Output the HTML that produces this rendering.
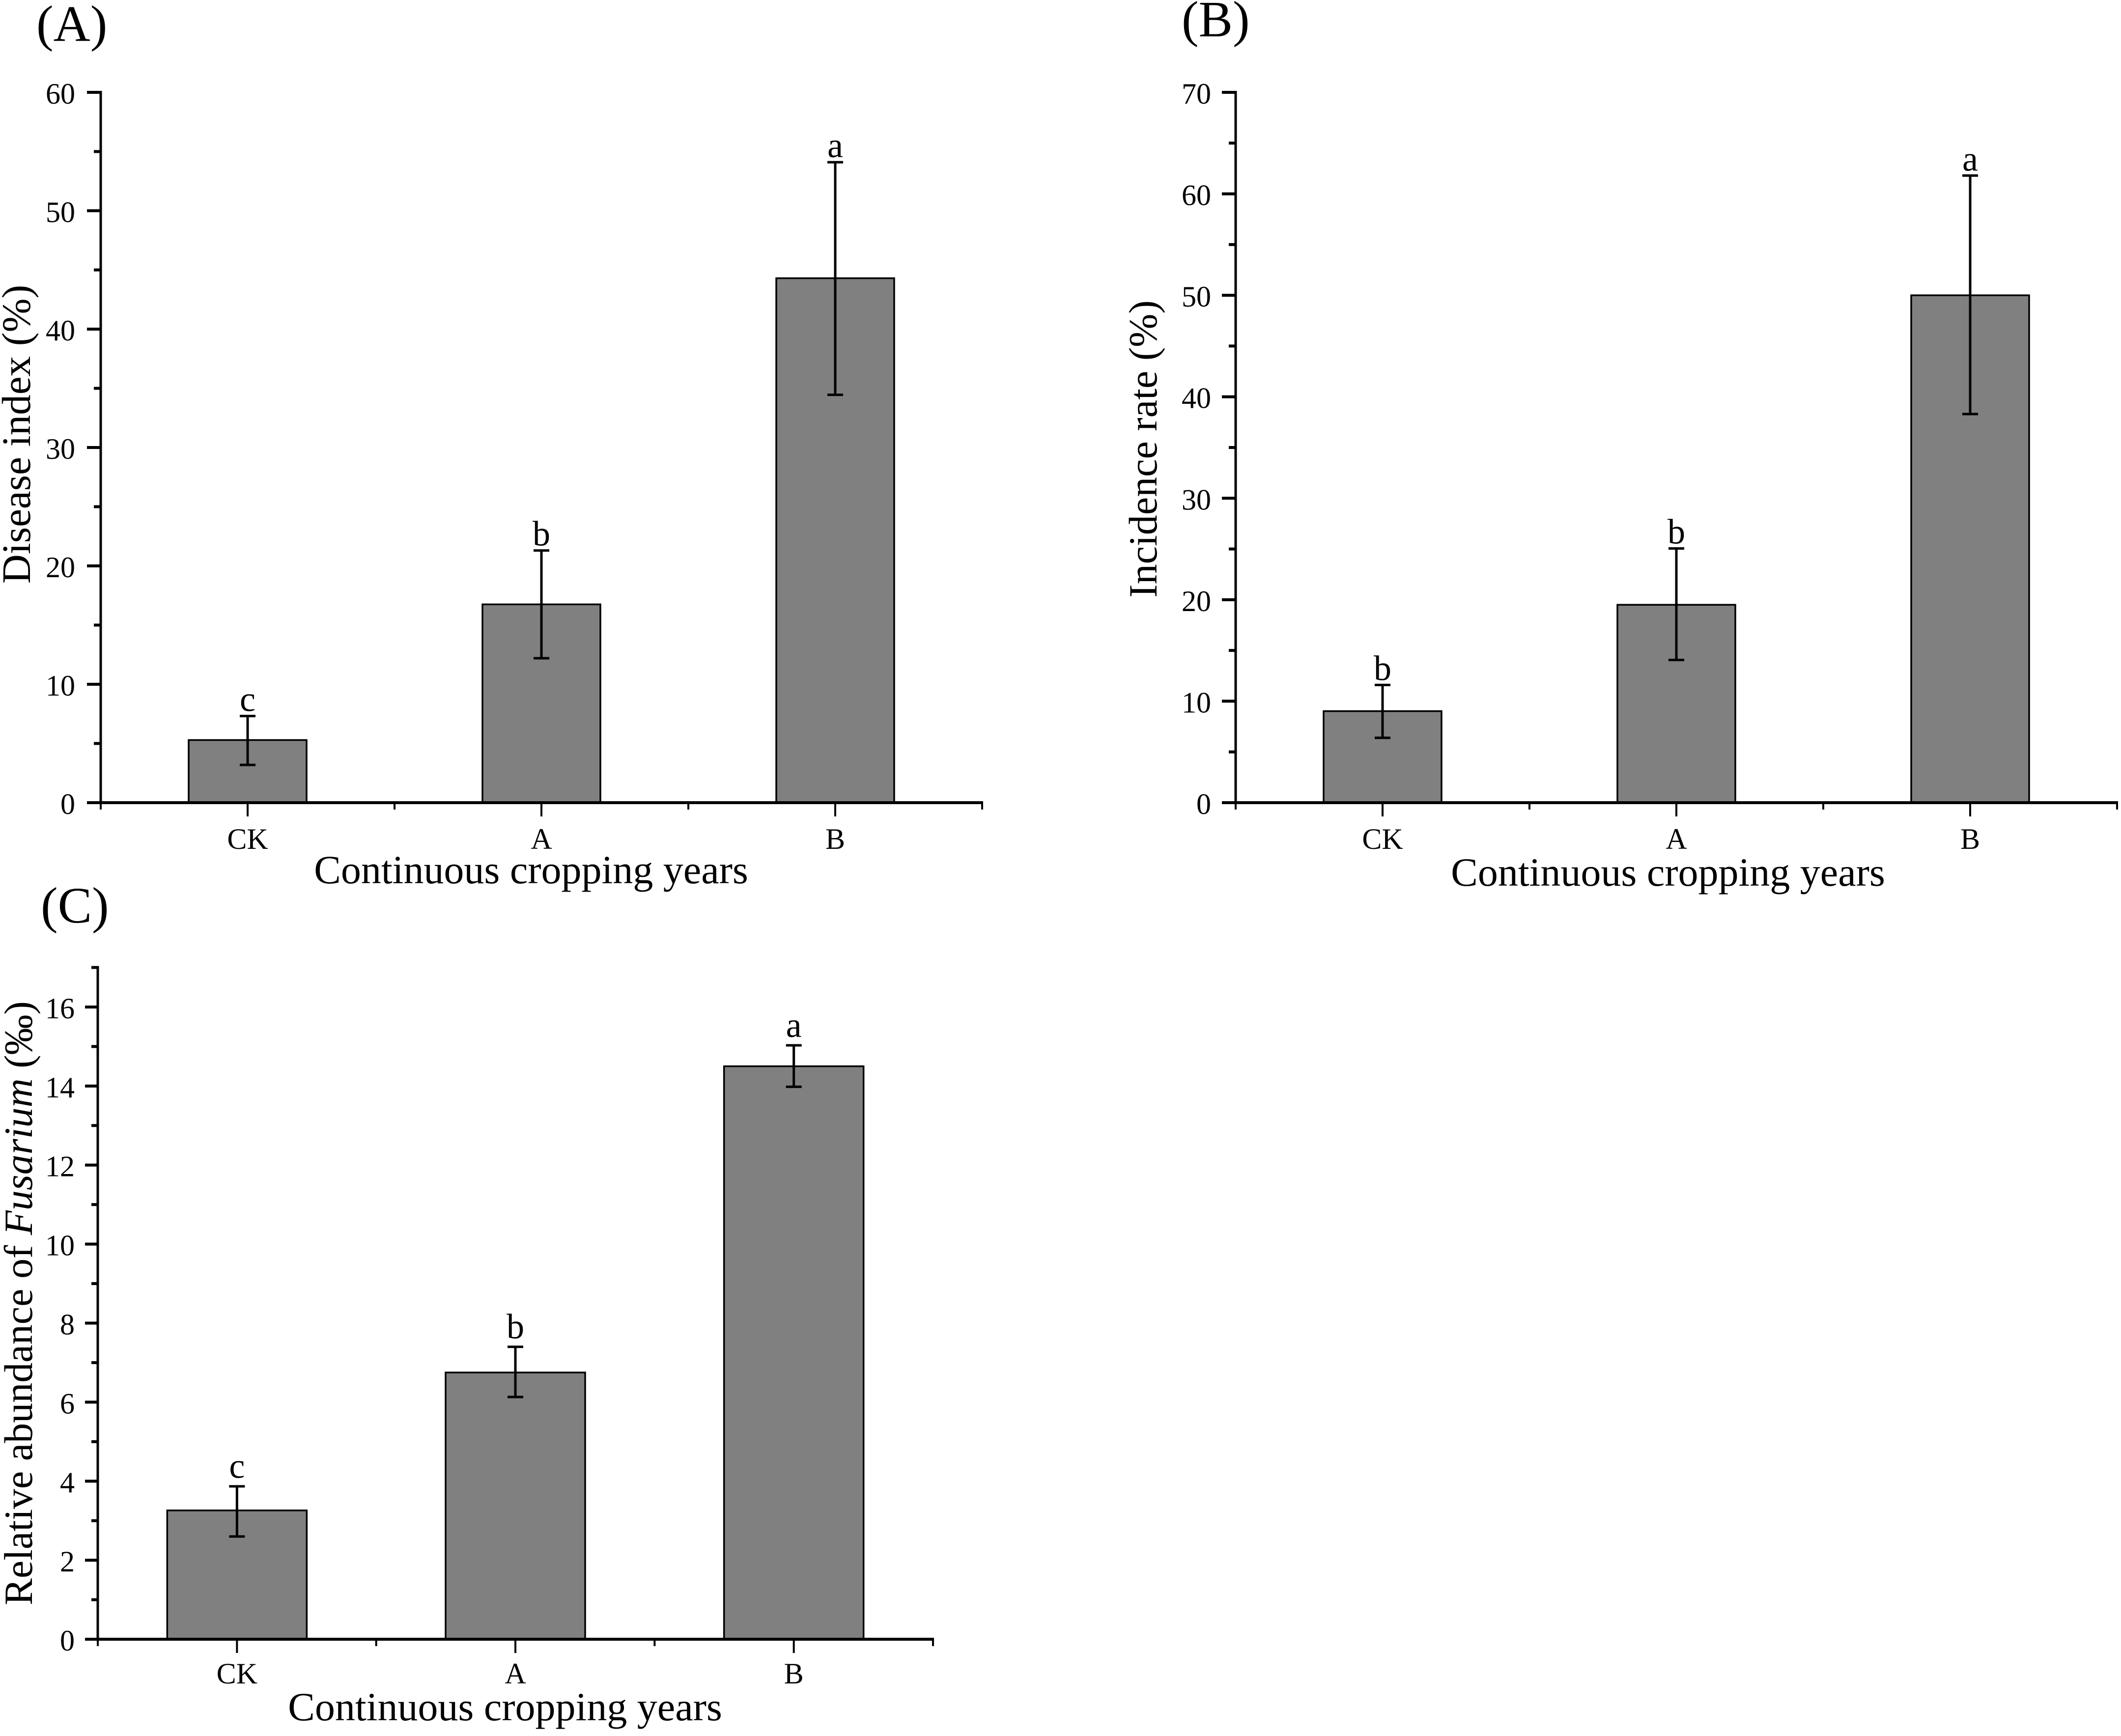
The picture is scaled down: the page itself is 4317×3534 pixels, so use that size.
<!DOCTYPE html>
<html lang="en">
<head>
<meta charset="utf-8">
<title>Disease index, incidence rate and Fusarium abundance</title>
<style>
html,body{margin:0;padding:0;background:#fff}
svg{display:block}
text{font-family:"Liberation Serif",serif;fill:#000}
.panel-tag{font-size:104px}
.tick{font-size:60px}
.axis-title{font-size:82px}
.y-title-wide{font-size:83px}
.sig{font-size:72px}
</style>
</head>
<body>
<svg id="figure" xmlns="http://www.w3.org/2000/svg" width="4317" height="3534" viewBox="0 0 4317 3534">
  <rect width="4317" height="3534" fill="#fff"/>

  <g id="panel-a">
    <text class="panel-tag" x="74" y="83">(A)</text>
    <text class="axis-title" x="1081" y="1798" text-anchor="middle">Continuous cropping years</text>
    <text class="axis-title y-title-wide" transform="translate(61 884) rotate(-90)" text-anchor="middle">Disease index (%)</text>
  </g>

  <g id="panel-b">
    <text class="panel-tag" x="2405" y="74">(B)</text>
    <text class="axis-title" x="3395" y="1803" text-anchor="middle">Continuous cropping years</text>
    <text class="axis-title" transform="translate(2354 914) rotate(-90)" text-anchor="middle">Incidence rate (%)</text>
  </g>

  <g id="panel-c">
    <text class="panel-tag" x="83" y="1878">(C)</text>
    <text class="axis-title" x="1028" y="3502" text-anchor="middle">Continuous cropping years</text>
    <text class="axis-title" transform="translate(65 2653) rotate(-90)" text-anchor="middle">Relative abundance of <tspan font-style="italic">Fusarium</tspan> (‰)</text>
  </g>
</svg>

<script>
const categories = ['CK', 'A', 'B'];

const diseaseMeans = [5.29, 16.75, 44.3];
const diseaseErrTop = [7.32, 21.3, 54.1];
const diseaseErrBottom = [3.19, 12.2, 34.45];
const diseaseLetters = ['c', 'b', 'a'];
const diseaseMajorTicks = [0, 10, 20, 30, 40, 50, 60];
const diseaseMinorTicks = [5, 15, 25, 35, 45, 55];

const incidenceMeans = [9.02, 19.5, 50.0];
const incidenceErrTop = [11.6, 25.05, 61.8];
const incidenceErrBottom = [6.39, 14.06, 38.3];
const incidenceLetters = ['b', 'b', 'a'];
const incidenceMajorTicks = [0, 10, 20, 30, 40, 50, 60, 70];
const incidenceMinorTicks = [5, 15, 25, 35, 45, 55, 65];

const fusariumMeans = [3.26, 6.75, 14.5];
const fusariumErrTop = [3.87, 7.4, 15.03];
const fusariumErrBottom = [2.6, 6.13, 13.98];
const fusariumLetters = ['c', 'b', 'a'];
const fusariumMajorTicks = [0, 2, 4, 6, 8, 10, 12, 14, 16];
const fusariumMinorTicks = [1, 3, 5, 7, 9, 11, 13, 15, 17];

const SVG_NS = 'http://www.w3.org/2000/svg';

function make(tag, attrs, parent) {
  const el = document.createElementNS(SVG_NS, tag);
  for (const key in attrs) el.setAttribute(key, attrs[key]);
  parent.appendChild(el);
  return el;
}

function line(parent, x1, y1, x2, y2, width) {
  return make('line', { x1: x1, y1: y1, x2: x2, y2: y2, stroke: '#000', 'stroke-width': width }, parent);
}

function renderPanel(p) {
  const root = document.getElementById(p.id);
  const slot = (p.right - p.left) / categories.length;
  const xPos = function (i) { return p.left + slot * (i + 0.5); };
  const yPos = function (v) { return p.bottom - (v / p.yMax) * (p.bottom - p.top); };

  categories.forEach(function (cat, i) {
    const bar = make('rect', {
      x: xPos(i) - p.barWidth / 2,
      y: yPos(p.means[i]),
      width: p.barWidth,
      height: p.bottom - yPos(p.means[i]),
      fill: '#808080',
      stroke: '#000',
      'stroke-width': 3.5
    }, root);
    
    

    const stem = line(root, xPos(i), yPos(p.errTop[i]), xPos(i), yPos(p.errBottom[i]), 5);
    
    

    const capTop = line(root, xPos(i) - 16, yPos(p.errTop[i]), xPos(i) + 16, yPos(p.errTop[i]), 5);
    
    

    const capBottom = line(root, xPos(i) - 16, yPos(p.errBottom[i]), xPos(i) + 16, yPos(p.errBottom[i]), 5);
    
    

    const letter = make('text', {
      class: 'sig',
      x: xPos(i),
      y: yPos(p.errTop[i]) - p.letterGap,
      'text-anchor': 'middle'
    }, root);
    letter.textContent = p.letters[i];
    
    

    const catLabel = make('text', {
      class: 'tick',
      x: xPos(i),
      y: p.catBaseline,
      'text-anchor': 'middle'
    }, root);
    catLabel.textContent = cat;
    
    

    const xMajor = line(root, xPos(i), p.bottom, xPos(i), p.bottom + 28, 4);
    
    
  });

  for (let i = 0; i <= categories.length; i++) {
    const xMinor = line(root, p.left + slot * i, p.bottom, p.left + slot * i, p.bottom + 14, 4);
    
    
  }

  const yAxis = line(root, p.left, p.top - 3, p.left, p.bottom, 5);
  
  

  const xAxis = line(root, p.left, p.bottom, p.right + 2, p.bottom, 6);
  
  

  p.majorTicks.forEach(function (v) {
    const tick = line(root, p.left - p.majorLen, yPos(v), p.left, yPos(v), 6);
    
    

    const label = make('text', {
      class: 'tick',
      x: p.left - p.labelGap,
      y: yPos(v) + 23,
      'text-anchor': 'end'
    }, root);
    label.textContent = String(v);
    
    
  });

  p.minorTicks.forEach(function (v) {
    const tick = line(root, p.left - p.majorLen / 2, yPos(v), p.left, yPos(v), 6);
    
    
  });
}

renderPanel({
  id: 'panel-a', left: 205, right: 1999, top: 188, bottom: 1634, yMax: 60,
  barWidth: 240, letterGap: 10, catBaseline: 1728, majorLen: 28, labelGap: 52,
  means: diseaseMeans, errTop: diseaseErrTop, errBottom: diseaseErrBottom,
  letters: diseaseLetters, majorTicks: diseaseMajorTicks, minorTicks: diseaseMinorTicks
});

renderPanel({
  id: 'panel-b', left: 2515, right: 4309, top: 188, bottom: 1634, yMax: 70,
  barWidth: 240, letterGap: 10, catBaseline: 1728, majorLen: 28, labelGap: 50,
  means: incidenceMeans, errTop: incidenceErrTop, errBottom: incidenceErrBottom,
  letters: incidenceLetters, majorTicks: incidenceMajorTicks, minorTicks: incidenceMinorTicks
});

renderPanel({
  id: 'panel-c', left: 199, right: 1899, top: 1969.5, bottom: 3337, yMax: 17,
  barWidth: 284, letterGap: 17, catBaseline: 3427, majorLen: 26, labelGap: 47,
  means: fusariumMeans, errTop: fusariumErrTop, errBottom: fusariumErrBottom,
  letters: fusariumLetters, majorTicks: fusariumMajorTicks, minorTicks: fusariumMinorTicks
});
</script>
</body>
</html>
